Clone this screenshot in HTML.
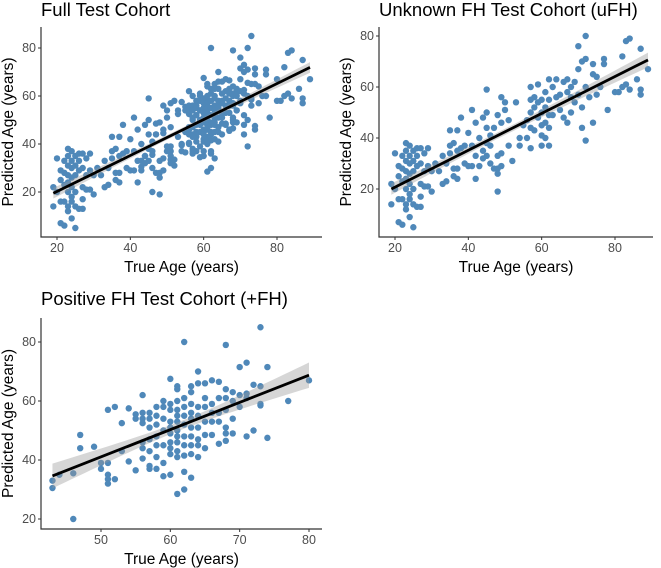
<!DOCTYPE html>
<html><head><meta charset="utf-8"><style>
body{margin:0;background:#fff;}
svg{display:block;font-family:"Liberation Sans",sans-serif;}
.tick{font-size:12.5px;fill:#4d4d4d;}
.ttl{font-size:18.5px;fill:#000;}
.ax{font-size:15.5px;fill:#000;}
</style></head><body>
<svg id="chart" width="661" height="568" viewBox="0 0 661 568"></svg>
<script>
const uFHTrue=[19,19,20,20,21,21,21,21,22,22,22,22,22,23,23,23,23,23,23,23,23,24,24,24,24,24,24,24,24,25,25,25,25,25,25,26,26,26,26,27,27,27,27,27,28,28,28,29,29,29,30,30,31,32,33,33,34,34,35,35,35,36,36,36,37,37,37,37,38,38,39,39,40,40,41,41,41,42,42,42,43,43,44,44,44,45,45,45,45,45,46,46,46,47,47,48,48,48,48,48,49,49,49,49,50,50,51,51,52,53,54,54,55,56,56,57,57,57,57,57,58,58,58,59,59,59,60,60,60,60,60,61,61,61,61,62,62,62,62,62,63,63,64,64,65,65,66,66,67,67,67,68,68,68,69,69,70,70,70,71,71,71,72,72,72,72,73,74,74,74,75,75,76,77,77,78,80,81,82,82,83,83,84,84,86,87,87,87,89];
const uFHPred=[22,14,34,20,29,25,16,7,28,33,23,6,16,38,35,31,27,24,20,14,12,37,33,30,26,22,18,16,9,35,31,27,20,5,14,33,29,36,13,36,30,22,17,13,34,27,21,36,29,21,27,19,30,27,33,22,30,23,43,37,34,38,28,25,43,35,28,24,48,36,30,37,42,29,51,37,29,46,33,24,40,29,48,35,32,59,50,44,38,33,41,37,30,44,28,49,33,28,26,19,56,46,34,29,54,51,47,37,31,54,40,37,45,47,40,60,55,50,44,36,56,52,43,61,54,48,55,50,45,41,37,58,52,46,40,63,55,49,44,37,60,49,63,56,57,51,48,62,63,58,46,60,56,50,62,54,76,67,57,70,52,44,80,71,60,39,56,69,65,46,64,57,60,69,71,51,58,58,72,60,61,78,79,59,63,75,59,57,67];
const pFHTrue=[43,43,44,46,46,47,47,49,50,50,51,51,51,51,51,52,52,53,53,54,54,55,55,55,56,56,56,56,56,56,56,57,57,57,57,57,57,57,58,58,58,58,58,58,58,59,59,59,59,59,59,59,60,60,60,60,60,60,60,60,60,60,61,61,61,61,61,61,61,61,61,61,61,61,62,62,62,62,62,62,62,62,62,62,63,63,63,63,63,63,63,63,63,63,64,64,64,64,64,64,64,64,65,65,65,65,65,65,66,66,66,66,66,67,67,67,67,67,68,68,68,68,68,68,68,69,69,69,69,70,70,70,71,71,71,71,72,72,73,73,73,73,74,74,77,80];
const pFHPred=[33,30.5,35,20,35.5,48.5,44,44.5,39,37,39,35,33.5,32,57,58,33.5,52.5,43,57.5,39.5,55.5,54,36.5,62,56,54,52.5,44,40.5,46,56,54,51,47,43,38,37,58,55,52,48,45,41,37,60,58,54,50,45,39,34.5,67.5,59,57,53,51,49,46,44,42,35,65,64,60,57,55,53,50,48,46,43,41,28.5,80,61,58,55,52,48,45,41.5,36,30,65,63,59,56,54,51,48,45,42,34,70,66,58,55,51,47,45,41,66,61,58,53,48.5,44,67,59,56,53,48.5,66.5,61,56,53,45.5,79,64,61,57,51,49,46.5,63,60,54,49,71.5,62,58,73,62.5,61,48,65.5,50,85,65,59,58.5,71.5,47.5,60,67];
const fullTrue=uFHTrue.concat(pFHTrue);
const fullPred=uFHPred.concat(pFHPred);
const titles=["Full Test Cohort","Unknown FH Test Cohort (uFH)","Positive FH Test Cohort (+FH)"];
const xTicksA=[20,40,60,80];
const yTicksA=[20,40,60,80];
const xTicksC=[50,60,70,80];
const yTicksC=[20,40,60,80];

const NS="http://www.w3.org/2000/svg";
const svg=document.getElementById('chart');
function mk(tag,attrs,parent){const e=document.createElementNS(NS,tag);for(const k in attrs)e.setAttribute(k,attrs[k]);(parent||svg).appendChild(e);return e;}

function fit(xs,ys){const n=xs.length;let mx=0,my=0;for(let i=0;i<n;i++){mx+=xs[i];my+=ys[i];}mx/=n;my/=n;
let sxx=0,sxy=0;for(let i=0;i<n;i++){sxx+=(xs[i]-mx)**2;sxy+=(xs[i]-mx)*(ys[i]-my);}
const b=sxy/sxx,a=my-b*mx;let sse=0;for(let i=0;i<n;i++)sse+=(ys[i]-a-b*xs[i])**2;const s=Math.sqrt(sse/(n-2));
return {a,b,mx,sxx,s,n};}

function panel(p){
  const g=mk('g',{});
  
  
  const X=v=>p.x0+(v-p.xv0)*p.xs, Y=v=>p.y0-(v-p.yv0)*p.ys;
  const t=mk('text',{x:p.left,y:p.titleY,class:'ttl'},g);t.textContent=p.title;
  
  
  const pg=mk('g',{},g);
  
  
  for(let i=0;i<p.xs_.length;i++){
    const c=mk('circle',{cx:X(p.xs_[i]),cy:Y(p.ys_[i]),r:3.2,fill:'#4f88b9'},pg);
    
    
  }
  const f=fit(p.xs_,p.ys_);
  const xmin=Math.min(...p.xs_),xmax=Math.max(...p.xs_);
  let up=[],lo=[];
  for(let k=0;k<=40;k++){const xv=xmin+(xmax-xmin)*k/40;const yv=f.a+f.b*xv;
    const se=f.s*Math.sqrt(1/f.n+(xv-f.mx)**2/f.sxx)*1.97;
    up.push(X(xv)+','+Y(yv+se));lo.unshift(X(xv)+','+Y(yv-se));}
  const band=mk('polygon',{points:up.concat(lo).join(' '),fill:'#999',opacity:0.4},g);
  
  
  const ln=mk('line',{x1:X(xmin),y1:Y(f.a+f.b*xmin),x2:X(xmax),y2:Y(f.a+f.b*xmax),stroke:'#000','stroke-width':2.8},g);
  
  
  const ax=mk('path',{d:`M${p.left},${p.top}V${p.bottom}H${p.right}`,stroke:'#333',fill:'none','stroke-width':1.2},g);
  
  
  p.xt.forEach(v=>{mk('line',{x1:X(v),x2:X(v),y1:p.bottom,y2:p.bottom+3,stroke:'#333'},g);
    const tt=mk('text',{x:X(v),y:p.bottom+15,class:'tick','text-anchor':'middle'},g);tt.textContent=v;
    
    });
  p.yt.forEach(v=>{mk('line',{x1:p.left-3,x2:p.left,y1:Y(v),y2:Y(v),stroke:'#333'},g);
    const tt=mk('text',{x:p.left-5,y:Y(v)+4,class:'tick','text-anchor':'end'},g);tt.textContent=v;
    
    });
  const xt=mk('text',{x:(p.left+p.right)/2,y:p.bottom+35,class:'ax','text-anchor':'middle'},g);xt.textContent='True Age (years)';
  
  
  const cy=(p.top+p.bottom)/2;
  const yt=mk('text',{x:p.left-28,y:cy,class:'ax','text-anchor':'middle',transform:`rotate(-90 ${p.left-28} ${cy})`},g);yt.textContent='Predicted Age (years)';
  
  
}
panel({name:'panel-full',title:titles[0],xs_:fullTrue,ys_:fullPred,left:41,right:322,top:27,bottom:237,titleY:16,x0:57,xv0:20,xs:220/60,y0:192,yv0:20,ys:2.4,xt:xTicksA,yt:yTicksA});
panel({name:'panel-ufh',title:titles[1],xs_:uFHTrue,ys_:uFHPred,left:379,right:653,top:27,bottom:237,titleY:16,x0:395,xv0:20,xs:220/60,y0:189,yv0:20,ys:2.55,xt:xTicksA,yt:yTicksA});
panel({name:'panel-pfh',title:titles[2],xs_:pFHTrue,ys_:pFHPred,left:41,right:322,top:318,bottom:529,titleY:305,x0:101,xv0:50,xs:208/30,y0:519,yv0:20,ys:2.95,xt:xTicksC,yt:yTicksC});
</script>
</body></html>
